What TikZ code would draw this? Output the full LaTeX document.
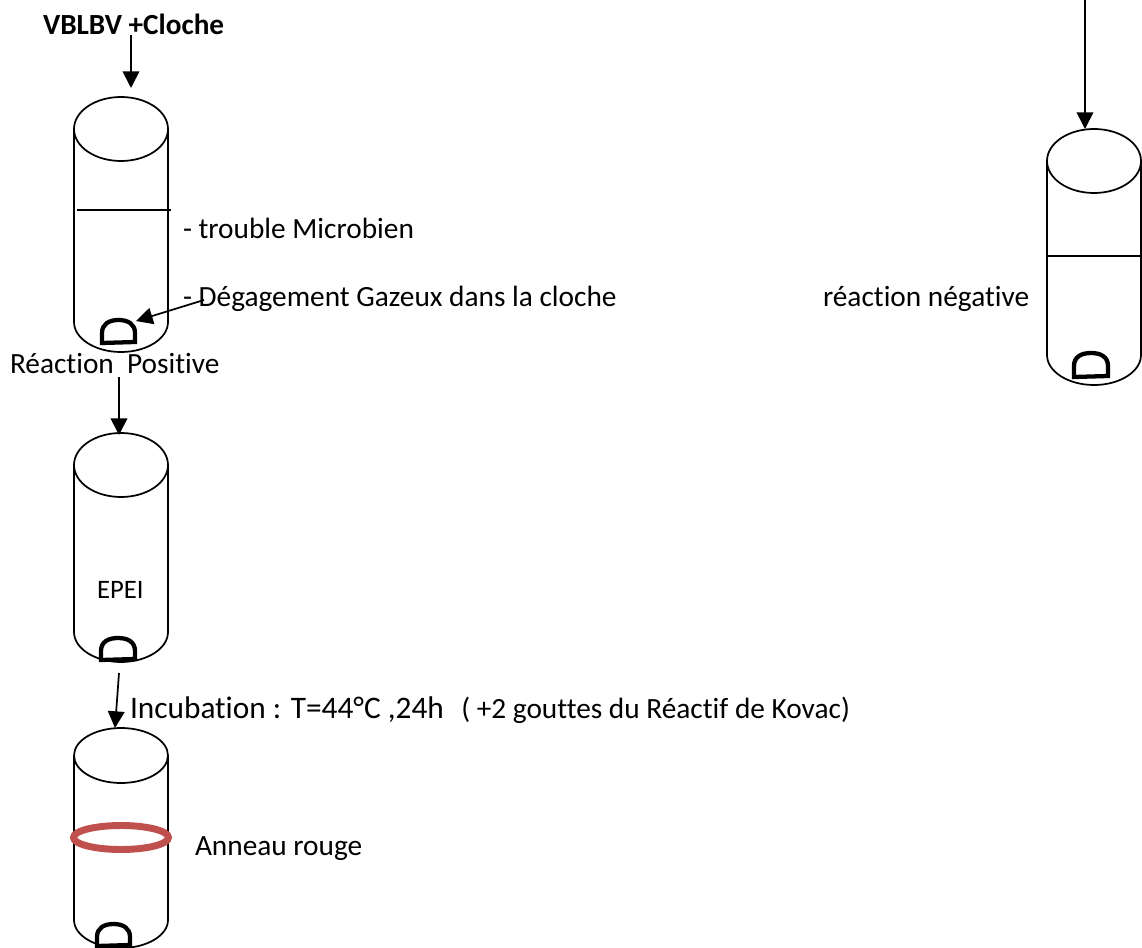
\documentclass[tikz,border=0pt]{standalone}
\usepackage{fontspec}
\setmainfont[Ligatures=NoCommon]{Carlito}
\usetikzlibrary{arrows.meta}
\newcommand{\fs}{\fontsize{22}{26}\selectfont}
\tikzset{
  x=0.75pt,y=-0.75pt,
  tubeline/.style={line width=1.3pt,black},
  bell/.style={line width=3.2pt,black,line join=miter},
  conn/.style={line width=1.3pt,-{Triangle[width=12.5pt,length=12.5pt]}},
  lab/.style={anchor=base west,inner sep=0pt,outer sep=0pt,font=\fs},
  ringst/.style={line width=5.2pt,draw=ringred},
}
\definecolor{ringred}{HTML}{C0504D}
% \tube{cx}{top}{ryTop}{sideEnd}{bottom}
\newcommand{\tube}[5]{%
  \draw[tubeline] (#1,#2+#3) ellipse [x radius=47,y radius=#3];
  \draw[tubeline] (#1-47,#2+#3) -- (#1-47,#4) .. controls (#1-47,#4+#5*0.55-#4*0.55) and (#1-26,#5) .. (#1,#5)
     .. controls (#1+26,#5) and (#1+47,#4+#5*0.55-#4*0.55) .. (#1+47,#4) -- (#1+47,#2+#3);
}
% \bellshape{left}{right}{top}{bottom}
\newcommand{\bellshape}[4]{%
  \draw[bell] (#1,#4) -- (#1,#3+13) .. controls (#1,#3+4) and (#1+7,#3) .. ({(#1+#2)/2},#3)
     .. controls (#2-7,#3) and (#2,#3+4) .. (#2,#3+13) -- (#2,#4-1) -- cycle;
}
\begin{document}
\begin{tikzpicture}
\useasboundingbox (0,0) rectangle (1142,948);
% tubes
\tube{121}{97}{32}{322}{352}
\tube{121}{433}{32}{632}{662}
\tube{121}{728}{27.5}{920}{948}
\tube{1094}{129}{32}{355}{385}
% levels
\coordinate (l1a) at (77,210); \coordinate (l1b) at (171,210);
\draw[tubeline] (l1a) -- (l1b);
\coordinate (l2a) at (1047,256); \coordinate (l2b) at (1141,256);
\draw[tubeline] (l2a) -- (l2b);
% bells
\bellshape{102}{135}{320}{343}
\bellshape{101}{135}{638}{660}
\bellshape{97}{130}{924}{946}
\bellshape{1074}{1108}{353}{377}
% ring
\draw[ringst] (121,837.5) ellipse [x radius=47.5,y radius=12];
% labels
\node[lab,font=\fontsize{21.9}{26}\selectfont\bfseries] (vb) at (43,35) {VBLBV +Cloche};
\node[lab] (tm) at (183,238.5) {- trouble Microbien};
\node[lab] (dg) at (183,307) {- Dégagement Gazeux dans la cloche};
\node[lab] (rn) at (823,307) {réaction négative};
\node[lab] (rp) at (10,373.5) {Réaction\ \ Positive};
\node[lab,font=\fontsize{20}{24}\selectfont] (ep) at (97,598) {EPEI};
\node[lab] (inc) at (130,718) {\fontsize{23.5}{28}\selectfont Incubation : T=44°C ,24h\hspace{13pt}{\fs( +2 gouttes du Réactif de Kovac)}};
\node[lab] (an) at (195,855) {Anneau rouge};
% connector ends
\coordinate (a1) at (131,35); \coordinate (a2) at (131,88);
\coordinate (b1) at (204,300); \coordinate (b2) at (136,321);
\coordinate (c1) at (119,377); \coordinate (c2) at (119,435);
\coordinate (d1) at (119,673); \coordinate (d2) at (115,728);
\coordinate (e1) at (1085,0); \coordinate (e2) at (1085,129);
\draw[conn] (a1) -- (a2);
\draw[conn] (b1) -- (b2);
\draw[conn] (c1) -- (c2);
\draw[conn] (d1) -- (d2);
\draw[conn] (e1) -- (e2);
\end{tikzpicture}
\end{document}
